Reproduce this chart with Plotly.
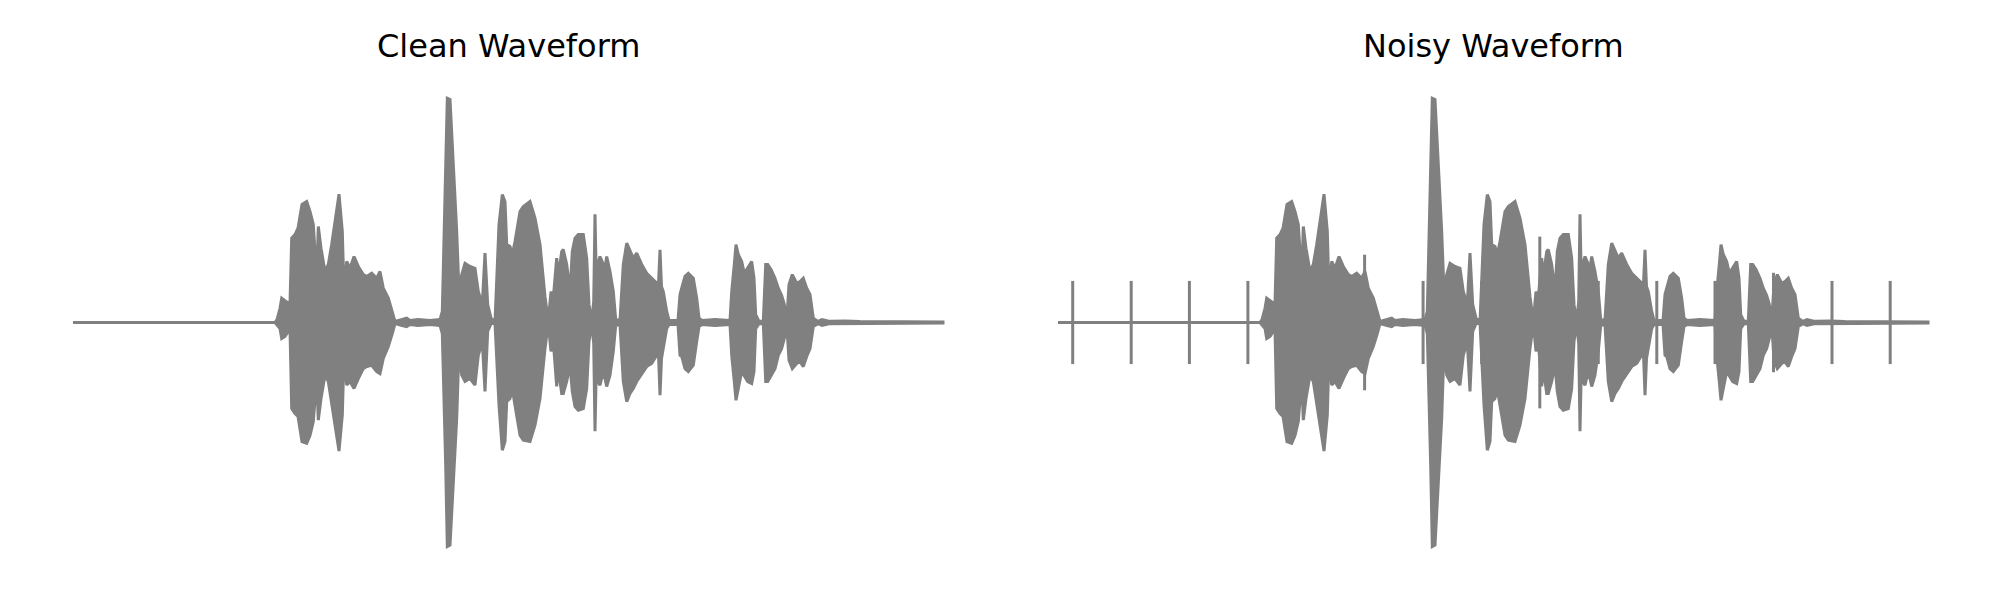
import plotly.graph_objects as go

# ---- data ----
# time in seconds, envelope amplitudes (upper / lower) of the speech waveform
t = [0.0, 0.6733, 0.68, 0.69, 0.6957, 0.7067, 0.7233, 0.729, 0.74, 0.75, 0.7633, 0.779, 0.79, 0.801,
     0.8123, 0.8177, 0.8267, 0.84, 0.851, 0.8623, 0.8733, 0.8867, 0.8977, 0.9033, 0.9123, 0.9233,
     0.9367, 0.951, 0.9677, 0.979, 0.9957, 1.0123, 1.0233, 1.0343, 1.051, 1.0643, 1.0733, 1.0967,
     1.1123, 1.1233, 1.15, 1.19, 1.2233, 1.231, 1.2423, 1.2477, 1.2567, 1.2677, 1.279, 1.2867,
     1.2957, 1.3067, 1.3233, 1.34, 1.351, 1.3643, 1.3733, 1.3823, 1.3933, 1.4067, 1.42, 1.431, 1.44,
     1.4457, 1.4567, 1.4643, 1.4733, 1.49, 1.501, 1.5233, 1.54, 1.5567, 1.5733, 1.5843, 1.5933,
     1.601, 1.6123, 1.6177, 1.629, 1.6343, 1.6457, 1.6567, 1.6643, 1.6733, 1.6843, 1.701, 1.7123,
     1.72, 1.729, 1.7357, 1.74, 1.745, 1.749, 1.7567, 1.7643, 1.7733, 1.779, 1.79, 1.801, 1.809,
     1.8233, 1.8343, 1.8457, 1.8567, 1.8677, 1.879, 1.8957, 1.9123, 1.929, 1.9457, 1.9517, 1.9567,
     1.9617, 1.9677, 1.979, 1.9867, 2.0167, 2.0233, 2.029, 2.04, 2.051, 2.0677, 2.079, 2.0867,
     2.0967, 2.14, 2.19, 2.1957, 2.2043, 2.21, 2.2177, 2.229, 2.2377, 2.249, 2.2623, 2.27, 2.2757,
     2.2867, 2.301, 2.309, 2.3157, 2.3267, 2.34, 2.351, 2.3623, 2.371, 2.379, 2.3867, 2.3977,
     2.4123, 2.4233, 2.4343, 2.4457, 2.4567, 2.4677, 2.4833, 2.4967, 2.5233, 2.5733, 2.6233, 2.9]

upper = [0.0, 0.0, 0.013, 0.063, 0.108, 0.097, 0.080, 0.373, 0.389, 0.417, 0.522, 0.535, 0.491, 0.434,
         0.196, 0.425, 0.329, 0.226, 0.257, 0.345, 0.447, 0.568, 0.403, 0.137, 0.270, 0.240,
         0.292, 0.248, 0.212, 0.204, 0.218, 0.196, 0.226, 0.152, 0.108, 0.049, 0.005, 0.013,
         0.019, 0.009, 0.013, 0.009, 0.013, 0.049, 0.624, 0.992, 0.987, 0.727, 0.403, 0.137,
         0.212, 0.262, 0.248, 0.240, 0.137, 0.080, 0.307, 0.080, 0.019, 0.003, 0.434, 0.566, 0.535,
         0.345, 0.336, 0.301, 0.358, 0.491, 0.513, 0.535, 0.462, 0.345, 0.115, 0.005, 0.137,
         0.108, 0.285, 0.204, 0.314, 0.323, 0.257, 0.137, 0.314, 0.373, 0.389, 0.389, 0.285,
         0.080, 0.005, 0.093, 0.479, 0.137, 0.257, 0.292, 0.270, 0.240, 0.292, 0.226, 0.137, 0.013,
         0.009, 0.257, 0.351, 0.314, 0.285, 0.307, 0.257, 0.218, 0.196, 0.174, 0.173, 0.322,
         0.159, 0.137, 0.049, 0.009, 0.009, 0.124, 0.152, 0.204, 0.218, 0.196, 0.108, 0.019,
         0.009, 0.013, 0.009, 0.137, 0.257, 0.345, 0.301, 0.270, 0.218, 0.240, 0.270, 0.196, 0.035,
         0.005, 0.005, 0.257, 0.257, 0.235, 0.196, 0.152, 0.119, 0.080, 0.005, 0.168, 0.212,
         0.174, 0.181, 0.196, 0.152, 0.124, 0.019, 0.005, 0.013, 0.005, 0.007, 0.004, 0.002]

lower = [0.0, 0.0, -0.013, -0.027, -0.071, -0.062, -0.027, -0.381, -0.403, -0.416, -0.527, -0.535, -0.500, -0.438,
         -0.248, -0.432, -0.336, -0.233, -0.261, -0.366, -0.454, -0.569, -0.410, -0.145, -0.277, -0.261,
         -0.292, -0.248, -0.204, -0.195, -0.189, -0.217, -0.226, -0.159, -0.106, -0.049, -0.005, -0.013,
         -0.018, -0.009, -0.013, -0.009, -0.013, -0.049, -0.631, -0.991, -0.985, -0.735, -0.425, -0.115,
         -0.233, -0.261, -0.248, -0.277, -0.145, -0.084, -0.305, -0.040, -0.005, -0.003, -0.366, -0.565, -0.527,
         -0.350, -0.336, -0.292, -0.366, -0.499, -0.521, -0.527, -0.454, -0.336, -0.115, -0.005, -0.128,
         -0.084, -0.283, -0.204, -0.314, -0.314, -0.261, -0.189, -0.305, -0.372, -0.388, -0.381, -0.292,
         -0.084, -0.005, -0.093, -0.481, -0.159, -0.261, -0.277, -0.233, -0.248, -0.283, -0.233, -0.128, -0.013,
         -0.009, -0.261, -0.350, -0.314, -0.292, -0.261, -0.226, -0.195, -0.181, -0.145, -0.142, -0.322,
         -0.159, -0.115, -0.027, -0.009, -0.009, -0.145, -0.150, -0.204, -0.217, -0.189, -0.084, -0.018,
         -0.009, -0.013, -0.009, -0.145, -0.261, -0.344, -0.292, -0.217, -0.233, -0.261, -0.270, -0.217, -0.027,
         -0.005, -0.005, -0.261, -0.261, -0.233, -0.204, -0.145, -0.115, -0.071, -0.005, -0.167, -0.204,
         -0.181, -0.173, -0.195, -0.150, -0.115, -0.018, -0.005, -0.013, -0.005, -0.007, -0.004, -0.002]

# impulse noise added in the noisy waveform: times (s) and peak amplitudes
impulse_t = [0.049, 0.244, 0.438, 0.633, 0.828, 1.022, 1.217, 1.412, 1.606, 1.801,
             1.996, 2.190, 2.385, 2.580, 2.774]
impulse_amp = [0.184, 0.184, 0.184, 0.184, 0.184, 0.30, 0.184, 0.184, 0.38, 0.184,
               0.184, 0.184, 0.22, 0.184, 0.184]

titles = ["Clean Waveform", "Noisy Waveform"]
color = "gray"

# ---- figure ----
fig = go.Figure()
poly_x = t + t[::-1]
poly_y = upper + lower[::-1]

for i, ax in enumerate(["", "2"]):
    fig.add_trace(go.Scatter(x=poly_x, y=poly_y, mode="lines", fill="toself",
                             fillcolor=color, line=dict(color=color, width=3),
                             xaxis="x" + ax, yaxis="y" + ax, hoverinfo="skip",
                             showlegend=False))

ix, iy = [], []
for tt, a in zip(impulse_t, impulse_amp):
    ix += [tt, tt, None]
    iy += [-a, a, None]
fig.add_trace(go.Scatter(x=ix, y=iy, mode="lines", line=dict(color=color, width=3),
                         xaxis="x2", yaxis="y2", hoverinfo="skip", showlegend=False))

W, H = 2000, 600
OFF = 8  # page body margin of the html file
xr = [-0.01, 2.91]
yr = [-(H - (322.5 - OFF)) / 226.0, (322.5 - OFF) / 226.0]
fig.update_layout(
    width=W, height=H,
    margin=dict(l=0, r=0, t=0, b=0),
    paper_bgcolor="white", plot_bgcolor="white",
    xaxis=dict(domain=[(70 - OFF) / W, (946 - OFF) / W], range=xr, visible=False),
    xaxis2=dict(domain=[(1055 - OFF) / W, (1931 - OFF) / W], range=xr, visible=False),
    yaxis=dict(domain=[0, 1], range=yr, visible=False, anchor="x"),
    yaxis2=dict(domain=[0, 1], range=yr, visible=False, anchor="x2"),
)
centers = [(508 - OFF) / W, (1493 - OFF) / W]
for c, txt in zip(centers, titles):
    fig.add_annotation(text=txt, x=c, y=1 - (46 - OFF) / H, xref="paper", yref="paper",
                       xanchor="center", yanchor="middle", showarrow=False,
                       font=dict(family="DejaVu Sans", size=32, color="black"))

fig.write_html("out.html")
